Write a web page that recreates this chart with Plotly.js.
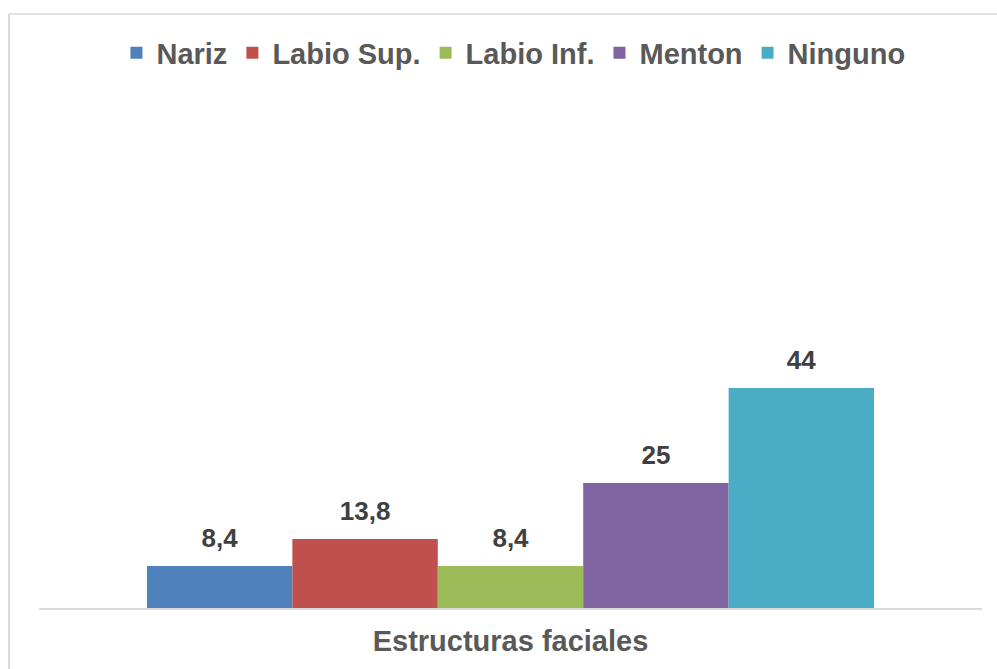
<!DOCTYPE html>
<html>
<head>
<meta charset="utf-8">
<script src="https://cdn.plot.ly/plotly-3.0.1.min.js"></script>
<style>html,body{margin:0;padding:0;background:#fff;}#chart{width:997px;height:669px;}</style>
</head>
<body>
<div id="chart"></div>
<script>
var category = ['Estructuras faciales'];
var seriesNames = ['Nariz', 'Labio Sup.', 'Labio Inf.', 'Menton', 'Ninguno'];
var seriesValues = [8.4, 13.8, 8.4, 25, 44];
var seriesColors = ['#4F81BD', '#C0504D', '#9BBB59', '#8064A2', '#4BACC6'];

var FONT = 'Arial, "Liberation Sans", sans-serif';
var traces = [];
seriesNames.forEach(function (name, i) {
  traces.push({
    type: 'bar', name: name, x: category, y: [seriesValues[i]],
    marker: {color: seriesColors[i]}, offsetgroup: String(i),
    hoverinfo: 'name+y'
  });
});
seriesNames.forEach(function (name, i) {
  traces.push({
    type: 'scatter', mode: 'markers+text', orientation: 'v', x: category, y: [seriesValues[i]],
    offsetgroup: String(i), showlegend: false, hoverinfo: 'skip',
    text: [String(seriesValues[i]).replace('.', ',')],
    textposition: 'top center',
    marker: {size: 18, opacity: 0},
    textfont: {family: FONT, size: 26, color: '#404040', weight: 'bold'}
  });
});

var layout = {
  width: 997, height: 669,
  margin: {l: 39, r: 15, t: 108, b: 61},
  paper_bgcolor: '#ffffff', plot_bgcolor: '#ffffff',
  barmode: 'group', bargap: 0.229, scattermode: 'group', scattergap: 0.229,
  showlegend: true,
  legend: {
    orientation: 'h', x: 0.515, xanchor: 'center', xref: 'container',
    y: 0.921, yanchor: 'middle', yref: 'container',
    font: {family: FONT, size: 29, color: '#595959', weight: 'bold'},
    itemclick: false, itemdoubleclick: false
  },
  xaxis: {
    showline: true, linecolor: '#d9d9d9', linewidth: 1.5,
    showticklabels: false, ticks: '', showgrid: false, zeroline: false,
    title: {text: 'Estructuras faciales', standoff: 22,
            font: {family: FONT, size: 29, color: '#595959', weight: 'bold'}}
  },
  yaxis: {range: [0, 100], visible: false, showgrid: false, zeroline: false},
  shapes: [
    {type: 'line', xref: 'paper', yref: 'paper', x0: -0.0318, x1: 1.02, y0: 1.188, y1: 1.188,
     line: {color: '#d9d9d9', width: 1.5}},
    {type: 'line', xref: 'paper', yref: 'paper', x0: -0.0318, x1: -0.0318, y0: -0.13, y1: 1.188,
     line: {color: '#d9d9d9', width: 2}}
  ]
};

Plotly.newPlot('chart', traces, layout, {displayModeBar: false, staticPlot: false});
</script>
</body>
</html>
